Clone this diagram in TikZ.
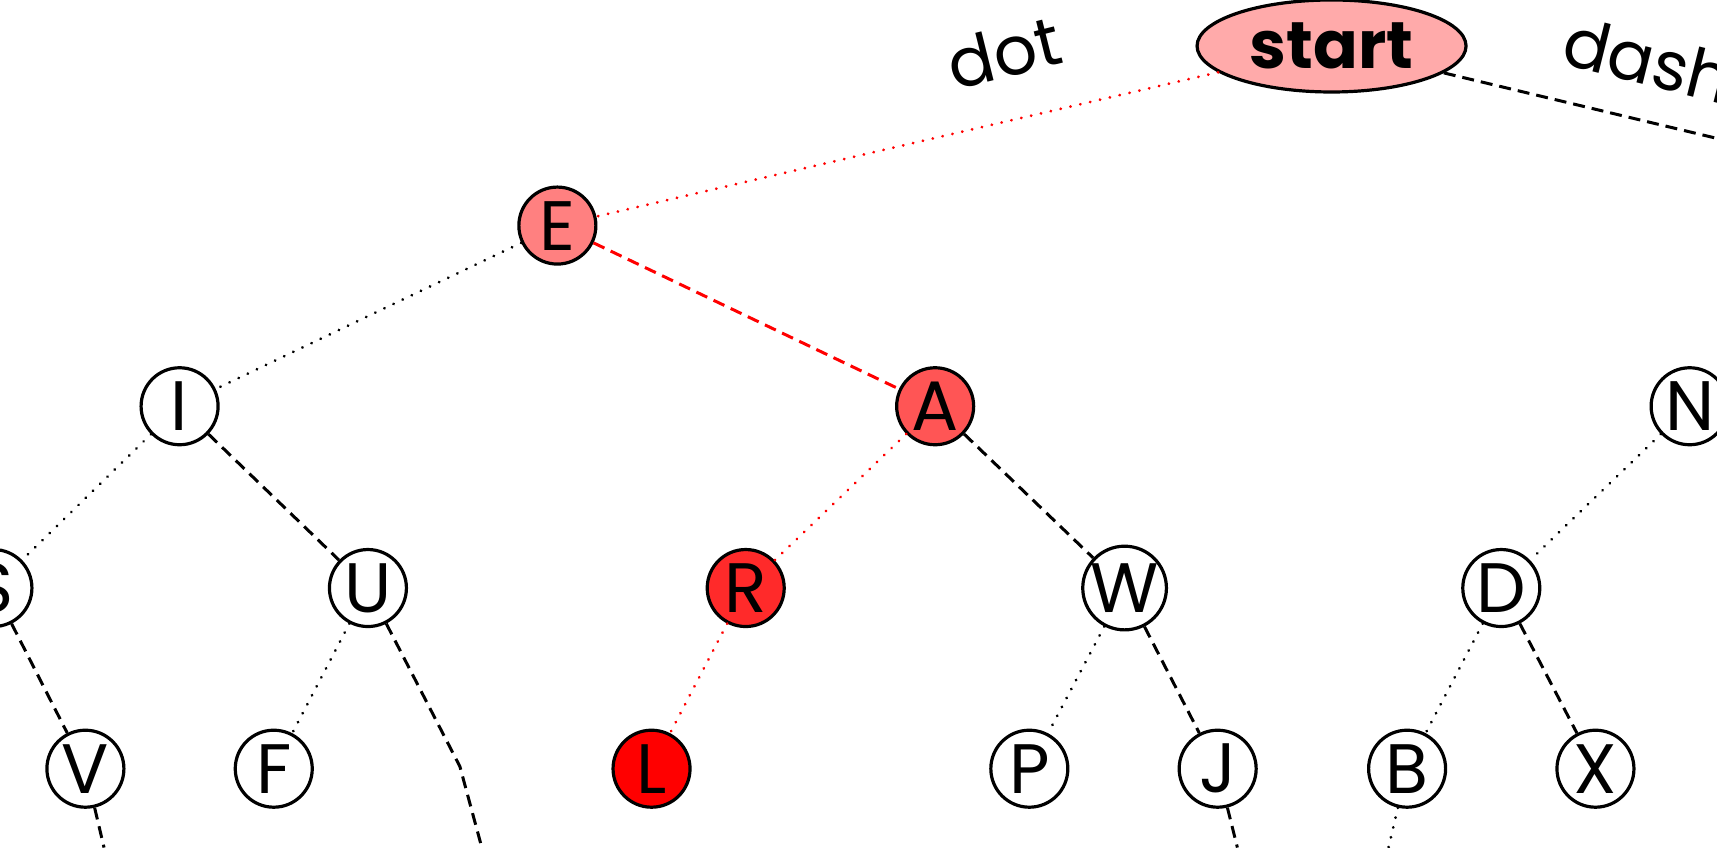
\documentclass[tikz,border=0pt]{standalone}
\usepackage{fontspec}
\setmainfont{Poppins}
\usetikzlibrary{shapes.geometric}
\tikzset{
  letter/.style={draw, circle, line width=3.2pt, minimum size=77pt, inner sep=0pt, fill=white, font=\fontsize{70}{72}\selectfont},
  dotedge/.style={line width=3pt, line cap=round, dash pattern=on 0.1pt off 10pt},
  dashedge/.style={line width=3pt, dash pattern=on 12pt off 7pt},
  tag/.style={font=\fontsize{68}{72}\selectfont}
}
\begin{document}
\begin{tikzpicture}[x=1.095pt,y=-1.095pt]
\useasboundingbox (0,0) rectangle (1568,774);
\clip (0,0) rectangle (1568,774);

%% root %%
\node [draw, ellipse, line width=3.2pt, minimum width=269pt, minimum height=92pt, inner sep=0pt, fill={rgb,255:red,255;green,170;blue,170}, font=\bfseries\fontsize{66}{70}\selectfont] (start) at (1216,42) {start};
\node [tag, rotate=14] (dottag) at (917,48) {dot};
\node [tag, rotate=-14] (dashtag) at (1505,55) {dash};
\coordinate (T) at (1900,206);

%% letters %%
\node [letter, fill={rgb,255:red,255;green,128;blue,128}] (E) at (509,206) {E};
\node [letter] (I) at (164,371) {I};
\node [letter, fill={rgb,255:red,255;green,85;blue,85}] (A) at (854,371) {A};
\node [letter] (N) at (1543,371) {N};
\node [letter] (S) at (-6,537) {S};
\node [letter] (U) at (336,537) {U};
\node [letter, fill={rgb,255:red,255;green,42;blue,42}] (R) at (681,537) {R};
\node [letter] (W) at (1027,537) {W};
\node [letter] (D) at (1371,537) {D};
\node [letter] (V) at (78,702) {V};
\node [letter] (F) at (250,702) {F};
\node [letter, fill=red] (L) at (595,702) {L};
\node [letter] (P) at (940,702) {P};
\node [letter] (J) at (1112,702) {J};
\node [letter] (B) at (1285,702) {B};
\node [letter] (X) at (1457,702) {X};

%% loose ends %%
\coordinate (Vd) at (95,774);
\coordinate (Ubend) at (420,700);
\coordinate (Ud) at (440,774);
\coordinate (Jd) at (1130,774);
\coordinate (Bd) at (1268,774);

%% edges %%
\draw[dotedge, red] (start) -- (E);
\draw[dashedge] (start) -- (T);
\draw[dotedge] (E) -- (I);
\draw[dashedge, red] (E) -- (A);
\draw[dotedge] (I) -- (S);
\draw[dashedge] (I) -- (U);
\draw[dotedge, red] (A) -- (R);
\draw[dashedge] (A) -- (W);
\draw[dotedge] (N) -- (D);
\draw[dashedge] (S) -- (V);
\draw[dashedge] (V) -- (Vd);
\draw[dotedge] (U) -- (F);
\draw[dashedge] (U) -- (Ubend) -- (Ud);
\draw[dotedge, red] (R) -- (L);
\draw[dotedge] (W) -- (P);
\draw[dashedge] (W) -- (J);
\draw[dashedge] (J) -- (Jd);
\draw[dotedge] (D) -- (B);
\draw[dashedge] (D) -- (X);
\draw[dotedge] (B) -- (Bd);
\end{tikzpicture}
\end{document}
